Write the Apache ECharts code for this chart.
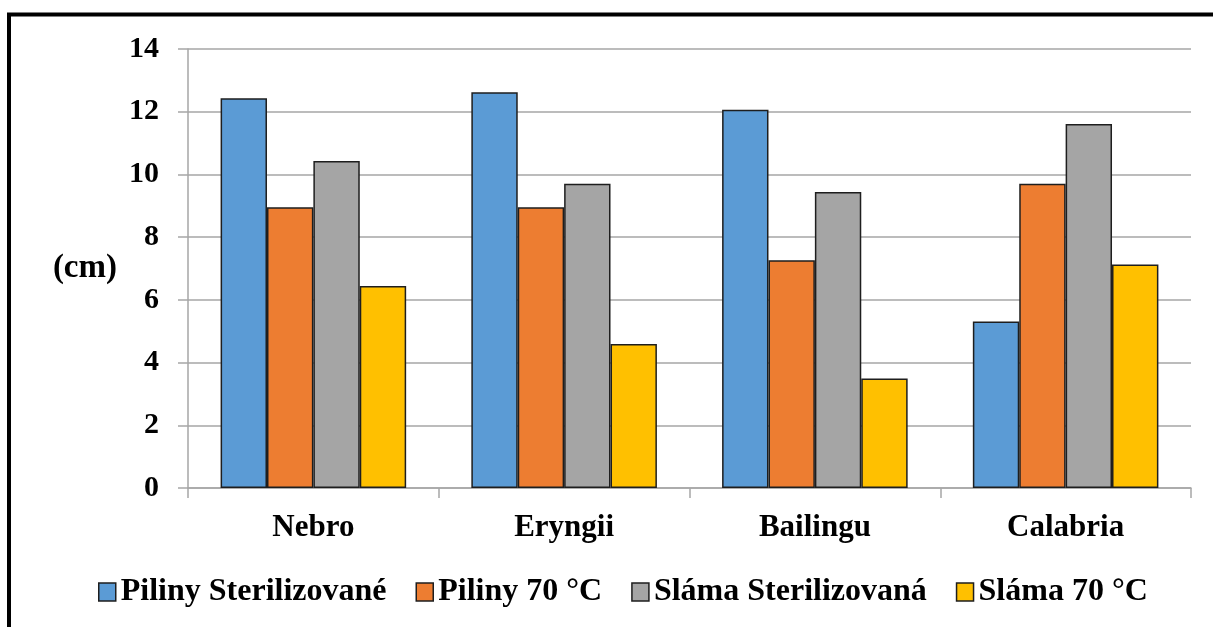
<!DOCTYPE html>
<html>
<head>
<meta charset="utf-8">
<script src="https://cdn.jsdelivr.net/npm/echarts@6/dist/echarts.min.js"></script>
<style>
html,body{margin:0;padding:0;background:#fff;}
#chart{width:1213px;height:627px;}
</style>
</head>
<body>
<div id="chart"></div>
<script>
const categories = ['Nebro', 'Eryngii', 'Bailingu', 'Calabria'];
const seriesNames = ['Piliny Sterilizované', 'Piliny 70 °C', 'Sláma Sterilizovaná', 'Sláma 70 °C'];
const pilinySter = [12.43, 12.62, 12.06, 5.31];
const piliny70 = [8.95, 8.95, 7.26, 9.70];
const slamaSter = [10.43, 9.70, 9.44, 11.61];
const slama70 = [6.44, 4.59, 3.49, 7.13];
const yTicks = [0, 2, 4, 6, 8, 10, 12, 14];
const colors = ['#5B9BD5', '#ED7D31', '#A5A5A5', '#FFC000'];

const FONT = '"Liberation Serif", "Times New Roman", serif';
const chart = echarts.init(document.getElementById('chart'), null, {renderer: 'canvas'});

const dataSets = [pilinySter, piliny70, slamaSter, slama70];
const series = dataSets.map((d, i) => ({
  name: seriesNames[i],
  type: 'bar',
  data: d,
  barGap: '0%',
  barCategoryGap: '26%',
  itemStyle: {color: colors[i], borderColor: '#1e1e1e', borderWidth: 1.5},
  emphasis: {disabled: true}
}));

chart.setOption({
  animation: false,
  backgroundColor: '#fff',
  grid: {left: 188, right: 22, top: 49, bottom: 139, containLabel: false},
  legend: {
    left: 93, top: 571,
    itemWidth: 17, itemHeight: 18, itemGap: 29,
    icon: 'rect',
    itemStyle: {borderColor: '#1e1e1e', borderWidth: 1.5},
    textStyle: {fontFamily: FONT, fontWeight: 'bold', fontSize: 32, color: '#000'},
    data: seriesNames
  },
  xAxis: {
    type: 'category',
    data: categories,
    axisLine: {show: true, lineStyle: {color: '#a6a6a6', width: 1.5}},
    axisTick: {show: true, length: 10, interval: 0, lineStyle: {color: '#a6a6a6', width: 1.5}},
    axisLabel: {margin: 24, fontFamily: FONT, fontWeight: 'bold', fontSize: 31, color: '#000', interval: 0}
  },
  yAxis: {
    type: 'value',
    min: yTicks[0], max: yTicks[yTicks.length - 1], interval: 2,
    name: '(cm)',
    nameLocation: 'middle',
    nameRotate: 0,
    nameGap: 71,
    nameTextStyle: {fontFamily: FONT, fontWeight: 'bold', fontSize: 33, color: '#000', align: 'right', verticalAlign: 'middle'},
    axisLine: {show: true, lineStyle: {color: '#a6a6a6', width: 1.5}},
    axisTick: {show: true, inside: false, length: 10, lineStyle: {color: '#a6a6a6', width: 1.5}},
    axisLabel: {margin: 29, fontFamily: FONT, fontWeight: 'bold', fontSize: 30, color: '#000'},
    splitLine: {show: true, lineStyle: {color: '#a6a6a6', width: 1.5}}
  },
  graphic: [{
    type: 'rect',
    shape: {x: 9, y: 14.5, width: 1400, height: 800},
    style: {fill: 'none', stroke: '#000', lineWidth: 4},
    silent: true
  }],
  series: series
});
</script>
</body>
</html>
